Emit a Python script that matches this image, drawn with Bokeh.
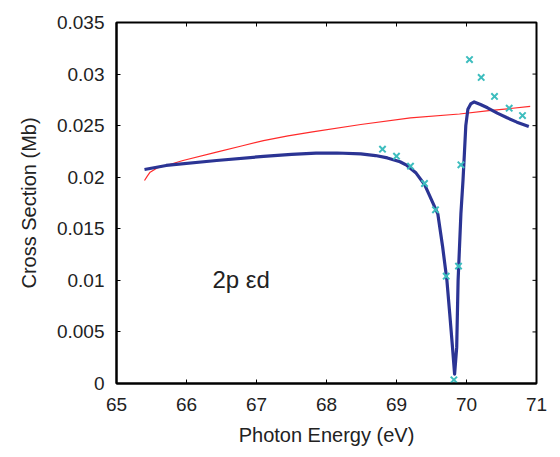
import math
from bokeh.plotting import figure
from bokeh.models import FixedTicker, Range1d
from bokeh.core.properties import value
from bokeh.embed import file_html
from bokeh.resources import INLINE

# axis ranges, tick positions and labels
x_min, x_max = 65, 71
y_min, y_max = 0, 0.035
x_ticks = [65, 66, 67, 68, 69, 70, 71]
x_tick_labels = ["65", "66", "67", "68", "69", "70", "71"]
y_ticks = [0, 0.005, 0.01, 0.015, 0.02, 0.025, 0.03, 0.035]
y_tick_labels = ["0", "0.005", "0.01", "0.015", "0.02", "0.025", "0.03", "0.035"]

# experiment (crosses)
exp_energy = [68.80, 69.00, 69.20, 69.40, 69.557, 69.71, 69.82, 69.886, 69.92,
              70.043, 70.21, 70.40, 70.61, 70.80]
exp_sigma = [0.02272, 0.02204, 0.02107, 0.01939, 0.01684, 0.0104, 0.00036, 0.01138,
             0.0212, 0.03141, 0.02967, 0.02783, 0.02669, 0.02598]

# resonance curve (thick blue)
res_energy = [65.40, 65.71, 66.43, 67.10, 67.50, 67.85, 68.15, 68.49, 68.70, 68.87,
              69.05, 69.15, 69.28, 69.40, 69.50, 69.59, 69.66, 69.72, 69.76, 69.80,
              69.83, 69.86, 69.87, 69.88, 69.92, 69.95, 69.97, 69.99, 70.02, 70.06,
              70.11, 70.20, 70.30, 70.44, 70.58, 70.72, 70.89]
res_sigma = [0.02075, 0.02114, 0.02162, 0.02202, 0.02222, 0.02233, 0.02235, 0.02226,
             0.02210, 0.02187, 0.02150, 0.02114, 0.0204, 0.0193, 0.0178, 0.01645,
             0.0132, 0.0100, 0.0068, 0.0035, 0.0009, 0.0035, 0.0068, 0.0100, 0.01645,
             0.0197, 0.0223, 0.0250, 0.0266, 0.0271, 0.0273, 0.02705, 0.02673, 0.02621,
             0.02576, 0.02534, 0.02492]

# background curve (thin red)
bg_energy = [65.40, 65.44, 65.48, 65.58, 65.71, 65.95, 66.43, 66.80, 67.10, 67.45,
             67.80, 68.49, 69.20, 69.90, 70.32, 70.91]
bg_sigma = [0.01968, 0.0201, 0.02049, 0.0209, 0.02114, 0.02162, 0.02243, 0.02305,
            0.02355, 0.02400, 0.02440, 0.02511, 0.02576, 0.02613, 0.02645, 0.02686]

FONT = "Liberation Sans"

p = figure(width=560, height=457, x_range=Range1d(x_min, x_max),
           y_range=Range1d(y_min, y_max),
           output_backend="svg", toolbar_location=None,
           min_border_left=116, min_border_right=24, min_border_top=22,
           min_border_bottom=74)
p.background_fill_color = "white"
p.border_fill_color = "white"
p.grid.visible = False
p.outline_line_color = "black"
p.outline_line_width = 2

p.line(bg_energy, bg_sigma, line_color="#FF2A2A", line_width=1.2)
p.line(res_energy, res_sigma, line_color="#2B3494", line_width=3.2, line_join="round")
p.scatter(exp_energy, exp_sigma, marker="x", size=9, line_color="#3DBDBE",
          line_width=2)

p.text(x=[66.37], y=[0.01005], text=["2p εd"], text_font=value(FONT),
       text_font_size="24px", text_color="#222222", text_baseline="alphabetic")

# inward mirror ticks on the top and right frame edges (clipped to the frame)
p.scatter(x_ticks, [y_max] * len(x_ticks), marker="dash", angle=math.pi / 2,
          size=8, line_color="black", line_width=1)
p.scatter([x_max] * len(y_ticks), y_ticks, marker="dash", angle=0,
          size=8, line_color="black", line_width=1)

xt = FixedTicker(ticks=x_ticks, minor_ticks=[])
yt = FixedTicker(ticks=y_ticks, minor_ticks=[])

for ax in p.xaxis:
    ax.ticker = xt
    ax.major_label_overrides = {t: l for t, l in zip(x_ticks, x_tick_labels)}
    ax.axis_label = "Photon Energy (eV)"
for ax in p.yaxis:
    ax.ticker = yt
    ax.major_label_overrides = {t: l for t, l in zip(y_ticks, y_tick_labels)}
    ax.axis_label = "Cross Section (Mb)"

for ax in p.xaxis + p.yaxis:
    ax.axis_line_width = 2
    ax.axis_line_color = "black"
    ax.major_tick_in = 4
    ax.major_tick_out = 0
    ax.minor_tick_line_color = None
    ax.major_label_text_font = FONT
    ax.major_label_text_font_size = "19px"
    ax.major_label_text_color = "#222222"
    ax.axis_label_text_font = FONT
    ax.axis_label_text_font_size = "20px"
    ax.axis_label_text_font_style = "normal"
    ax.axis_label_text_color = "#222222"

p.xaxis.major_label_standoff = 14
p.xaxis.axis_label_standoff = 10
p.yaxis.major_label_standoff = 12
p.yaxis.axis_label_standoff = 14

open("out.html", "w").write(file_html(p, INLINE))
